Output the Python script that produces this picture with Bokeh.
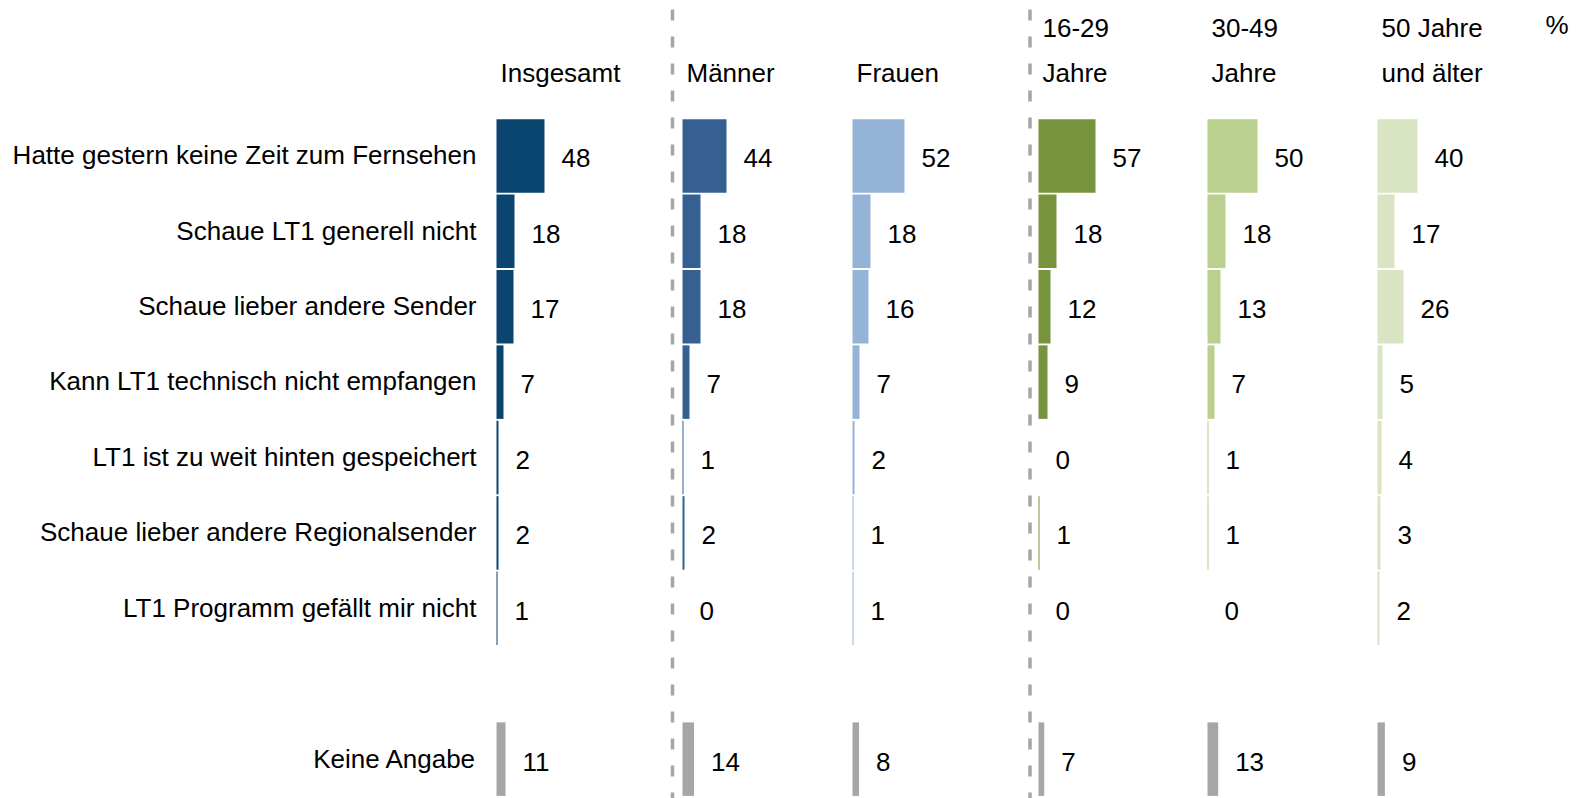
from bokeh.plotting import figure
from bokeh.models import Range1d, ColumnDataSource
from bokeh.core.properties import value
from bokeh.embed import file_html
from bokeh.resources import INLINE

# ---------------- data ----------------
categories = [
    "Hatte gestern keine Zeit zum Fernsehen",
    "Schaue LT1 generell nicht",
    "Schaue lieber andere Sender",
    "Kann LT1 technisch nicht empfangen",
    "LT1 ist zu weit hinten gespeichert",
    "Schaue lieber andere Regionalsender",
    "LT1 Programm gefällt mir nicht",
]
ka_label = "Keine Angabe"

header_line1 = ["", "", "", "16-29", "30-49", "50 Jahre"]
header_line2 = ["Insgesamt", "Männer", "Frauen", "Jahre", "Jahre", "und älter"]

insgesamt = [48, 18, 17, 7, 2, 2, 1]
maenner = [44, 18, 18, 7, 1, 2, 0]
frauen = [52, 18, 16, 7, 2, 1, 1]
age_16_29 = [57, 18, 12, 9, 0, 1, 0]
age_30_49 = [50, 18, 13, 7, 1, 1, 0]
age_50plus = [40, 17, 26, 5, 4, 3, 2]
series = [insgesamt, maenner, frauen, age_16_29, age_30_49, age_50plus]

keine_angabe = [11, 14, 8, 7, 13, 9]

colors = ["#0a4570", "#376092", "#95b3d7", "#77933c", "#b9d08e", "#d9e5c2"]
ka_color = "#a6a6a6"

# ---------------- layout ----------------
W, H = 1577, 798
col_start = [496, 682, 852, 1038, 1207, 1377]
sep_x = [672, 1029.5]
ka_row = 8
ka_scale = 0.82
bar_h = 0.975
label_gap = 17
FONT = value("Liberation Sans")
FS = "26px"

p = figure(width=W, height=H, x_range=Range1d(0, W), y_range=Range1d(8.522, -2.061),
           output_backend="svg", toolbar_location=None, x_axis_type=None, y_axis_type=None,
           min_border=0, min_border_left=0, min_border_right=0, min_border_top=0,
           min_border_bottom=0, outline_line_color=None)
p.xgrid.visible = False
p.ygrid.visible = False

rows = list(range(len(categories)))

# separators
p.segment(x0=sep_x, x1=sep_x, y0=[-1.942] * 2, y1=[8.6] * 2, line_color="#a6a6a6",
          line_width=3.5, line_dash="11 16")

for ci, vals in enumerate(series):
    x0 = col_start[ci]
    src = ColumnDataSource(dict(
        y=rows,
        left=[x0] * len(vals),
        right=[x0 + v for v in vals],
        lx=[x0 + v + label_gap for v in vals],
        ly=[r + 0.03 for r in rows],
        txt=[str(v) for v in vals],
    ))
    p.hbar(y="y", left="left", right="right", height=bar_h, source=src,
           fill_color=colors[ci], line_color=None)
    p.text(x="lx", y="ly", text="txt", source=src, text_font=FONT, text_font_size=FS,
           text_align="left", text_baseline="middle", text_color="#000000")

# Keine Angabe
ka_src = ColumnDataSource(dict(
    y=[ka_row] * len(keine_angabe),
    left=col_start,
    right=[c + v * ka_scale for c, v in zip(col_start, keine_angabe)],
    lx=[c + v * ka_scale + label_gap for c, v in zip(col_start, keine_angabe)],
    ly=[ka_row + 0.04] * len(keine_angabe),
    txt=[str(v) for v in keine_angabe],
))
p.hbar(y="y", left="left", right="right", height=bar_h, source=ka_src,
       fill_color=ka_color, line_color=None)
p.text(x="lx", y="ly", text="txt", source=ka_src, text_font=FONT, text_font_size=FS,
       text_align="left", text_baseline="middle", text_color="#000000")

# category labels
cat_src = ColumnDataSource(dict(
    x=[476] * (len(categories) + 1),
    y=[r - 0.01 for r in rows] + [ka_row],
    txt=categories + [ka_label],
))
p.text(x="x", y="y", text="txt", source=cat_src, text_font=FONT, text_font_size=FS,
       text_align="right", text_baseline="middle", text_color="#000000")

# headers
hx = [c + 4 for c in col_start]
p.text(x=hx, y=[-1.69] * 6, text=header_line1, text_font=FONT, text_font_size=FS,
       text_align="left", text_baseline="middle", text_color="#000000")
p.text(x=hx, y=[-1.10] * 6, text=header_line2, text_font=FONT, text_font_size=FS,
       text_align="left", text_baseline="middle", text_color="#000000")
p.text(x=[1545], y=[-1.73], text=["%"], text_font=FONT, text_font_size=FS,
       text_align="left", text_baseline="middle", text_color="#000000")

open("out.html", "w").write(file_html(p, INLINE))
